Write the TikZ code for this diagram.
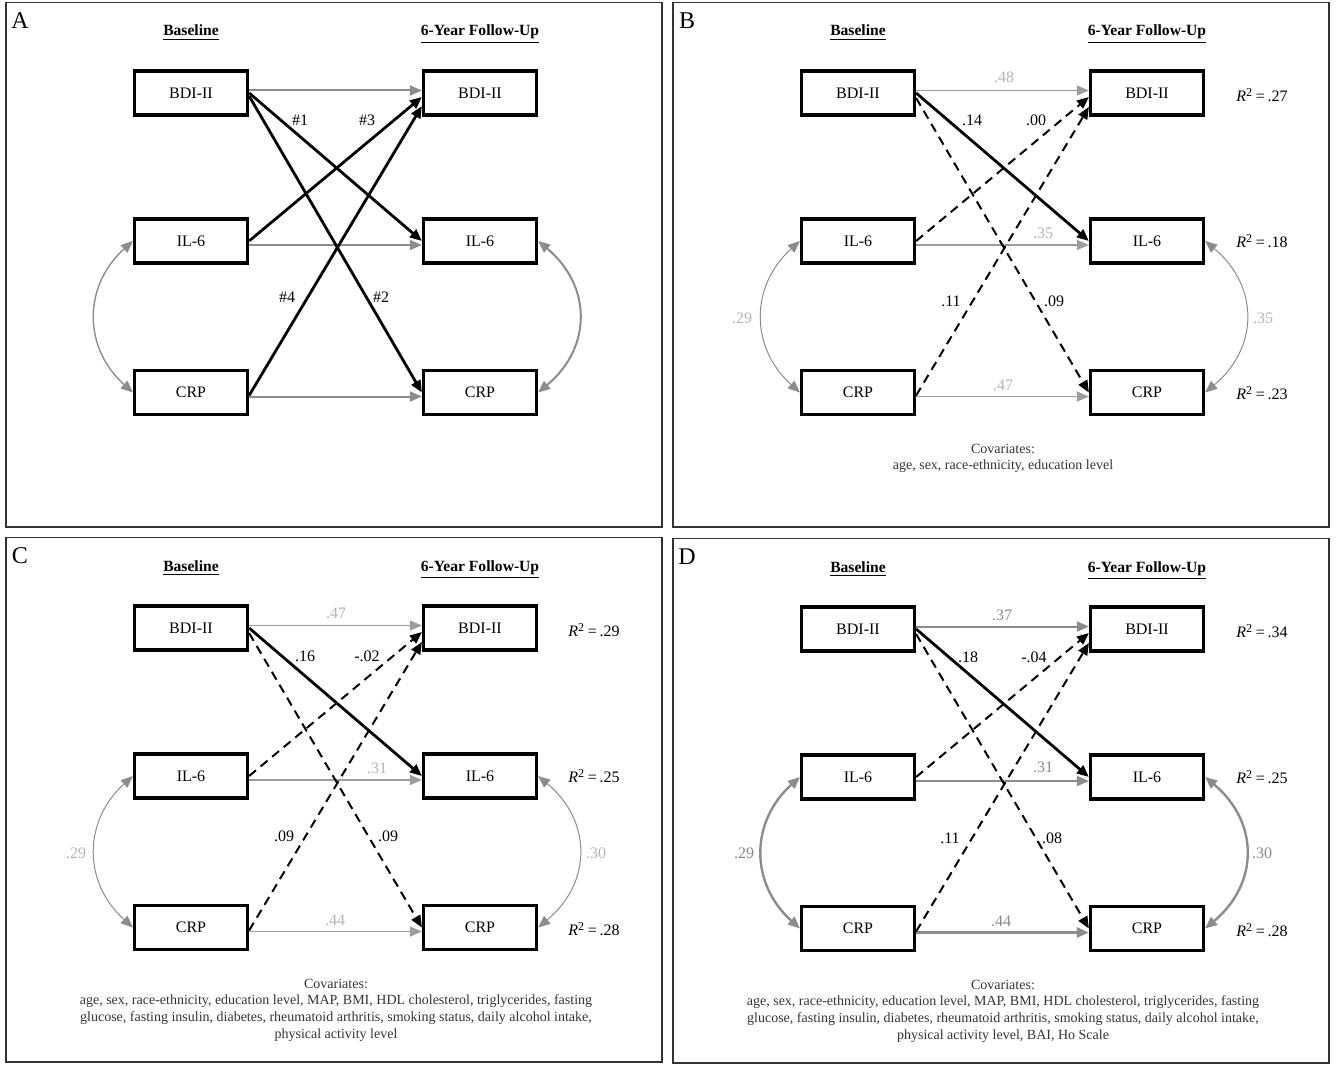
\documentclass[tikz,border=0pt]{standalone}
\usepackage{fontspec}
\setmainfont{Liberation Serif}
\usetikzlibrary{arrows.meta,calc}
\definecolor{framegray}{HTML}{333333}
\definecolor{pathgray}{HTML}{8C8C8C}
\definecolor{thingray}{HTML}{9C9C9C}
\definecolor{lightlab}{HTML}{B4B4B4}
\definecolor{midlab}{HTML}{8A8A8A}
\definecolor{covtext}{HTML}{333333}
\tikzset{
  varbox/.style={draw, line width=1.6pt, minimum width=56.5pt, minimum height=22pt, inner sep=0pt, font=\fontsize{8}{9.6}\selectfont},
  header/.style={font=\fontsize{7.8}{9}\selectfont\bfseries, anchor=base},
  panelletter/.style={font=\fontsize{12}{14}\selectfont},
  coef/.style={font=\fontsize{8}{9.6}\selectfont, inner sep=1pt},
  rsq/.style={font=\fontsize{8}{9.6}\selectfont, inner sep=1pt},
  covar/.style={font=\fontsize{7}{8.3}\selectfont, align=center, text=covtext, anchor=north},
  tip/.style={-{Triangle[length=6pt,width=5pt]}},
  grayarr/.style={tip, pathgray, line width=1pt},
  thinarr/.style={tip, thingray, line width=0.7pt},
  blkarr/.style={tip, black, line width=1.4pt},
  dasharr/.style={tip, black, line width=1pt, dash pattern=on 4.5pt off 3pt},
  corr/.style={{Triangle[length=6pt,width=5pt]}-{Triangle[length=6pt,width=5pt]}, pathgray, line width=0.7pt},
  thickcorr/.style={corr, line width=1.2pt}
}
\newcommand{\panelskel}[1]{%
  \draw[framegray, line width=0.8pt] (6,2.5) rectangle (662,527);
  \node[panelletter] (lett) at (20,21) {#1};
  \node[header] (hbase) at (191,36) {\underline{Baseline}};
  \node[header] (hfol) at (480,36) {\underline{6-Year Follow-Up}};
  \node[varbox] (bL) at (191,93) {BDI-II};
  \node[varbox] (iL) at (191,241) {IL-6};
  \node[varbox] (cL) at (191,392.5) {CRP};
  \node[varbox] (bR) at (480,93) {BDI-II};
  \node[varbox] (iR) at (480,241) {IL-6};
  \node[varbox] (cR) at (480,392.5) {CRP};
}
\newcommand{\rsqtext}[1]{\textit{R}\textsuperscript{2}\,=\,#1}
\begin{document}
\begin{tikzpicture}[x=0.5pt, y=-0.5pt]
\useasboundingbox (0,0) rectangle (1336,1064);

\begin{scope}
  \panelskel{A}
  \draw[grayarr] ([yshift=1.25pt]bL.east) -- ([yshift=1.25pt]bR.west);
  \draw[grayarr] ([yshift=-2pt]iL.east) -- ([yshift=-2pt]iR.west);
  \draw[grayarr] ([yshift=-2pt]cL.east) -- ([yshift=-2pt]cR.west);
  \draw[blkarr] (bL.east) -- (iR.west);
  \draw[blkarr] ([yshift=-1.5pt]bL.east) -- (cR.west);
  \draw[blkarr] (iL.east) -- ([yshift=-2pt]bR.west);
  \draw[blkarr] ([yshift=-1.5pt]cL.east) -- ([yshift=-6.5pt]bR.west);
  \draw[corr] (iL.west) .. controls +(-50,45) and +(-50,-45) .. (cL.west);
  \draw[corr, line width=1pt] (iR.east) .. controls +(54,45) and +(54,-45) .. (cR.east);
  \node[coef] (n1) at (300,120) {\#1};
  \node[coef] (n3) at (367,120) {\#3};
  \node[coef] (n4) at (287,297) {\#4};
  \node[coef] (n2) at (381,297) {\#2};
\end{scope}

\begin{scope}[shift={(667,0)}]
  \panelskel{B}
  \draw[thinarr] ([yshift=1.25pt]bL.east) -- ([yshift=1.25pt]bR.west);
  \draw[thinarr] ([yshift=-2pt]iL.east) -- ([yshift=-2pt]iR.west);
  \draw[thinarr] ([yshift=-2pt]cL.east) -- ([yshift=-2pt]cR.west);
  \draw[blkarr] (bL.east) -- (iR.west);
  \draw[dasharr] ([yshift=-2.5pt]bL.east) -- (cR.west);
  \draw[dasharr] (iL.east) -- ([yshift=-2pt]bR.west);
  \draw[dasharr] ([yshift=-1.5pt]cL.east) -- ([yshift=-7pt]bR.west);
  \draw[corr, line width=0.5pt] (iL.west) .. controls +(-50,45) and +(-50,-45) .. (cL.west);
  \draw[corr, line width=0.5pt] (iR.east) .. controls +(54,45) and +(54,-45) .. (cR.east);
  \node[coef, text=lightlab] (pbb) at (337,77) {.48};
  \node[coef, text=lightlab] (pii) at (376,233) {.35};
  \node[coef, text=lightlab] (pcc) at (336,385) {.47};
  \node[coef] (pbi) at (305,120) {.14};
  \node[coef] (pib) at (369,120) {.00};
  \node[coef] (pcb) at (284,301) {.11};
  \node[coef] (pbc) at (387,301) {.09};
  \node[coef, text=lightlab] (rl) at (75,318) {.29};
  \node[coef, text=lightlab] (rr) at (596,318) {.35};
  \node[rsq] (r1) at (595,95) {\rsqtext{.27}};
  \node[rsq] (r2) at (595,241) {\rsqtext{.18}};
  \node[rsq] (r3) at (595,393) {\rsqtext{.23}};
  \node[covar] (cov) at (336,437) {Covariates:\\age, sex, race-ethnicity, education level};
\end{scope}

\begin{scope}[shift={(0,535)}]
  \panelskel{C}
  \draw[thinarr] ([yshift=1.25pt]bL.east) -- ([yshift=1.25pt]bR.west);
  \draw[thinarr] ([yshift=-2pt]iL.east) -- ([yshift=-2pt]iR.west);
  \draw[thinarr, line width=0.9pt] ([yshift=-2pt]cL.east) -- ([yshift=-2pt]cR.west);
  \draw[blkarr] (bL.east) -- (iR.west);
  \draw[dasharr] ([yshift=-2.5pt]bL.east) -- (cR.west);
  \draw[dasharr] (iL.east) -- ([yshift=-2pt]bR.west);
  \draw[dasharr] ([yshift=-1.5pt]cL.east) -- ([yshift=-7pt]bR.west);
  \draw[corr, line width=0.5pt] (iL.west) .. controls +(-50,45) and +(-50,-45) .. (cL.west);
  \draw[corr, line width=0.5pt] (iR.east) .. controls +(54,45) and +(54,-45) .. (cR.east);
  \node[coef, text=lightlab] (pbb) at (336,78) {.47};
  \node[coef, text=lightlab] (pii) at (377,233) {.31};
  \node[coef, text=lightlab] (pcc) at (335,385) {.44};
  \node[coef] (pbi) at (305,121) {.16};
  \node[coef] (pib) at (367,121) {-.02};
  \node[coef] (pcb) at (284,301) {.09};
  \node[coef] (pbc) at (388,301) {.09};
  \node[coef, text=lightlab] (rl) at (76,318) {.29};
  \node[coef, text=lightlab] (rr) at (596,318) {.30};
  \node[rsq] (r1) at (594,95) {\rsqtext{.29}};
  \node[rsq] (r2) at (594,241) {\rsqtext{.25}};
  \node[rsq] (r3) at (594,394) {\rsqtext{.28}};
  \node[covar] (cov) at (336,437) {Covariates:\\age, sex, race-ethnicity, education level, MAP, BMI, HDL cholesterol, triglycerides, fasting\\glucose, fasting insulin, diabetes, rheumatoid arthritis, smoking status, daily alcohol intake,\\physical activity level};
\end{scope}

\begin{scope}[shift={(667,536)}]
  \panelskel{D}
  \draw[grayarr] ([yshift=1.25pt]bL.east) -- ([yshift=1.25pt]bR.west);
  \draw[grayarr] ([yshift=-2pt]iL.east) -- ([yshift=-2pt]iR.west);
  \draw[grayarr, line width=1.3pt] ([yshift=-2pt]cL.east) -- ([yshift=-2pt]cR.west);
  \draw[blkarr] (bL.east) -- (iR.west);
  \draw[dasharr] ([yshift=-2.5pt]bL.east) -- (cR.west);
  \draw[dasharr] (iL.east) -- ([yshift=-2pt]bR.west);
  \draw[dasharr] ([yshift=-1.5pt]cL.east) -- ([yshift=-7pt]bR.west);
  \draw[thickcorr] (iL.west) .. controls +(-50,45) and +(-50,-45) .. (cL.west);
  \draw[thickcorr] (iR.east) .. controls +(54,45) and +(54,-45) .. (cR.east);
  \node[coef, text=midlab] (pbb) at (335,79) {.37};
  \node[coef, text=midlab] (pii) at (376,231) {.31};
  \node[coef, text=midlab] (pcc) at (334,385) {.44};
  \node[coef] (pbi) at (301,121) {.18};
  \node[coef] (pib) at (367,121) {-.04};
  \node[coef] (pcb) at (283,302) {.11};
  \node[coef] (pbc) at (385,302) {.08};
  \node[coef, text=midlab] (rl) at (77,317) {.29};
  \node[coef, text=midlab] (rr) at (595,317) {.30};
  \node[rsq] (r1) at (595,95) {\rsqtext{.34}};
  \node[rsq] (r2) at (595,241) {\rsqtext{.25}};
  \node[rsq] (r3) at (595,394) {\rsqtext{.28}};
  \node[covar] (cov) at (336,437) {Covariates:\\age, sex, race-ethnicity, education level, MAP, BMI, HDL cholesterol, triglycerides, fasting\\glucose, fasting insulin, diabetes, rheumatoid arthritis, smoking status, daily alcohol intake,\\physical activity level, BAI, Ho Scale};
\end{scope}
\end{tikzpicture}
\end{document}
